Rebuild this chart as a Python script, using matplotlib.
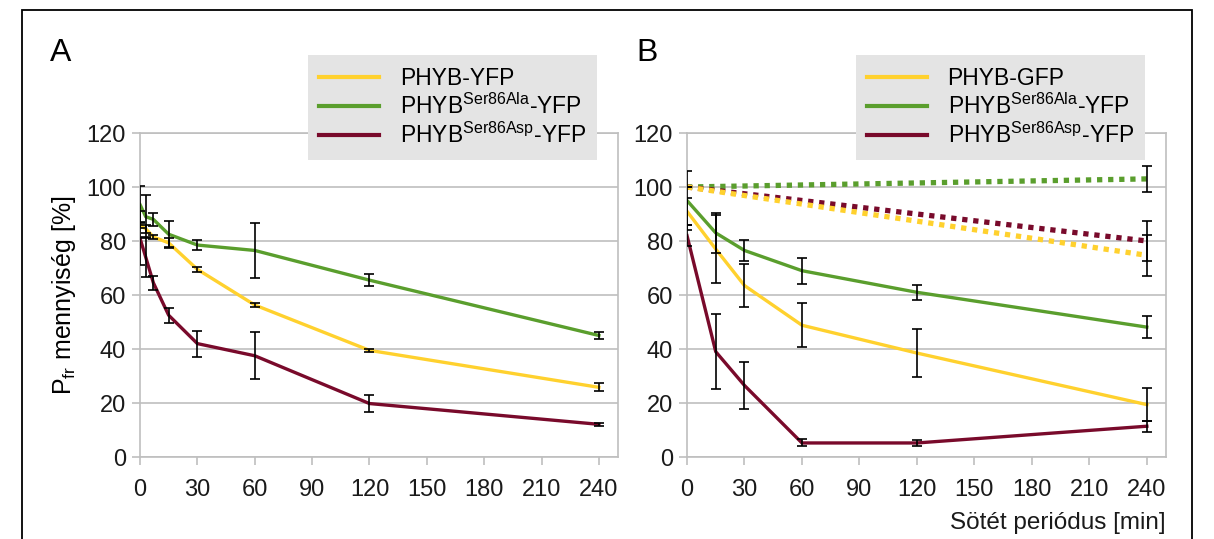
import matplotlib
matplotlib.use("Agg")
import matplotlib.pyplot as plt
from matplotlib.patches import Rectangle

plt.rcParams['font.family'] = ['Liberation Sans', 'DejaVu Sans']
plt.rcParams['mathtext.fontset'] = 'custom'
plt.rcParams['mathtext.rm'] = 'Liberation Sans'
plt.rcParams['mathtext.it'] = 'Liberation Sans:italic'

# --- adatok: A panel ---
time_a = [0, 3, 7, 15, 30, 60, 120, 240]
wt_a = [86, 84.5, 81.5, 79.3, 69.5, 56.3, 39.5, 25.8]
wt_a_err = [1.2, 1.5, 0.8, 1.8, 0.8, 0.9, 0.5, 1.5]
ala_a = [93.5, 89, 88, 82.5, 78.5, 76.5, 65.5, 45]
ala_a_err = [7, 8, 2.5, 4.8, 1.7, 10.2, 2.3, 1.4]
asp_a = [81, 74, 64.5, 52.5, 42, 37.5, 19.8, 12.1]
asp_a_err = [10, 7.5, 2.5, 2.7, 4.8, 8.7, 3.3, 0.5]

# --- adatok: B panel ---
time_b = [0, 15, 30, 60, 120, 240]
wt_b = [91, 77, 63.5, 48.8, 38.5, 19.4]
wt_b_err = [5, 12.5, 8, 8.2, 9, 6.1]
ala_b = [95, 83, 76.5, 69, 61, 48.1]
ala_b_err = [11, 7.5, 3.8, 4.8, 2.8, 4]
asp_b = [82, 39, 26.5, 5.2, 5.2, 11.4]
asp_b_err = [4, 13.8, 8.6, 1.3, 1.2, 2]

# fényen tartott kontrollok (pontozott)
time_light = [0, 240]
wt_light = [100, 74.7]
wt_light_err = [0, 7.7]
ala_light = [100, 103]
ala_light_err = [0, 4.7]
asp_light = [100, 80]
asp_light_err = [0, 7.4]

labels_a = ['PHYB-YFP', r'PHYB$^{\mathrm{Ser86Ala}}$-YFP', r'PHYB$^{\mathrm{Ser86Asp}}$-YFP']
labels_b = ['PHYB-GFP', r'PHYB$^{\mathrm{Ser86Ala}}$-YFP', r'PHYB$^{\mathrm{Ser86Asp}}$-YFP']
xticks = [0, 30, 60, 90, 120, 150, 180, 210, 240]
yticks = [0, 20, 40, 60, 80, 100, 120]

yellow = '#FFD12E'
green = '#5A9E2D'
red = '#790A2B'
grid_gray = '#BFBFBF'

W, H = 1214, 539
fig = plt.figure(figsize=(W / 100, H / 100), dpi=100)


def setup_axes(ax):
    ax.set_xlim(0, 250)
    ax.set_ylim(0, 120)
    ax.set_xticks(xticks)
    ax.set_yticks(yticks)
    ax.yaxis.grid(True, color=grid_gray, linewidth=1.2)
    ax.set_axisbelow(True)
    for s in ax.spines.values():
        s.set_color(grid_gray)
        s.set_linewidth(1.2)
    ax.tick_params(axis='both', colors=grid_gray, labelcolor='#1a1a1a',
                   labelsize=17, length=6, width=1.2, direction='out')
    ax.tick_params(axis='x', pad=10)
    ax.tick_params(axis='y', pad=4)


def draw(ax, x, y, err, color, label, dotted=False):
    if dotted:
        ax.plot(x, y, color=color, linewidth=3.8, linestyle=(0, (1, 1.1)),
                dash_capstyle='butt', zorder=3)
    else:
        ax.plot(x, y, color=color, linewidth=2.4, label=label, zorder=3)
    ax.errorbar(x, y, yerr=err, fmt='none', ecolor='black', elinewidth=1.2,
                capsize=3.5, capthick=1.2, zorder=4)


def legend(ax, labels):
    leg = ax.legend(labels, loc='upper right', bbox_to_anchor=(0.957, 1.24),
                    fontsize=16.5, frameon=True, fancybox=False, handlelength=2.6,
                    handletextpad=0.9, labelspacing=0.17, borderpad=0.5,
                    borderaxespad=0)
    leg.get_frame().set_facecolor('#E4E4E4')
    leg.get_frame().set_edgecolor('none')
    leg.get_frame().set_alpha(1)
    for line in leg.get_lines():
        line.set_linewidth(3)
    leg.set_zorder(10)


# A panel
ax_a = fig.add_axes([140 / W, 1 - 457 / H, 478 / W, 324 / H])
setup_axes(ax_a)
draw(ax_a, time_a, wt_a, wt_a_err, yellow, labels_a[0])
draw(ax_a, time_a, ala_a, ala_a_err, green, labels_a[1])
draw(ax_a, time_a, asp_a, asp_a_err, red, labels_a[2])
legend(ax_a, labels_a)
ax_a.set_ylabel(r'P$_{\mathrm{fr}}$ mennyiség [%]', fontsize=18, labelpad=6)

# B panel
ax_b = fig.add_axes([687 / W, 1 - 457 / H, 479 / W, 324 / H])
setup_axes(ax_b)
draw(ax_b, time_b, wt_b, wt_b_err, yellow, labels_b[0])
draw(ax_b, time_b, ala_b, ala_b_err, green, labels_b[1])
draw(ax_b, time_b, asp_b, asp_b_err, red, labels_b[2])
draw(ax_b, time_light, ala_light, ala_light_err, green, None, dotted=True)
draw(ax_b, time_light, asp_light, asp_light_err, red, None, dotted=True)
draw(ax_b, time_light, wt_light, wt_light_err, yellow, None, dotted=True)
legend(ax_b, labels_b)

fig.text(1166 / W, 1 - 529 / H, 'Sötét periódus [min]', fontsize=17.5,
         ha='right', va='baseline', color='#1a1a1a')

fig.text(50 / W, 1 - 61 / H, 'A', fontsize=23, va='baseline')
fig.text(636 / W, 1 - 61 / H, 'B', fontsize=23, va='baseline')

# kép kerete
fig.patches.append(Rectangle((22 / W, -0.02), (1192 - 22) / W, 1.02 - 10 / H,
                             transform=fig.transFigure, fill=False,
                             edgecolor='black', linewidth=1.3))

fig.savefig('out.png', dpi=100)
